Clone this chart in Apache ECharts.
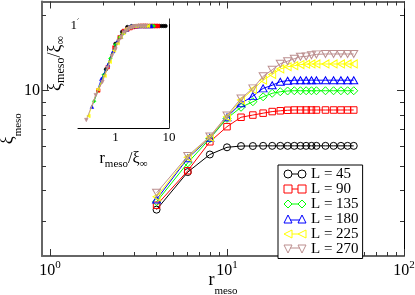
<!DOCTYPE html>
<html><head><meta charset="utf-8">
<script src="https://cdn.jsdelivr.net/npm/echarts@6/dist/echarts.min.js"></script>
<style>html,body{margin:0;padding:0;background:#fff}#c{width:415px;height:295px}</style>
</head><body><div id="c"></div>
<script>
// ---- data ----
const rMeso = [4, 6, 8, 10, 12, 14, 16, 18, 20, 22, 24, 26, 28, 30, 32, 36, 40, 44, 48, 52];
const xiL45  = [3.34, 4.72, 5.55, 5.93, 6.00, 6.00, 6.01, 6.01, 6.01, 6.01, 6.01, 6.01, 6.01, 6.01, 6.01, 6.01, 6.01, 6.01, 6.01, 6.01];
const xiL90  = [3.48, 4.78, 6.24, 7.17, 7.82, 7.98, 8.12, 8.24, 8.30, 8.34, 8.36, 8.36, 8.36, 8.36, 8.36, 8.36, 8.36, 8.36, 8.36, 8.36];
const xiL135 = [3.59, 5.14, 6.42, 7.74, 8.57, 9.02, 9.44, 9.75, 9.89, 9.96, 9.98, 9.98, 9.98, 9.98, 9.98, 9.98, 9.98, 9.98, 9.98, 9.98];
const xiL180 = [3.67, 5.36, 6.47, 7.82, 8.89, 9.50, 10.2, 10.5, 10.85, 10.95, 11.0, 11.0, 11.0, 11.0, 11.0, 11.0, 11.0, 11.0, 11.0, 11.0];
const xiL225 = [3.76, 5.41, 6.50, 7.85, 9.16, 10.1, 11.0, 11.6, 12.2, 12.45, 12.57, 12.70, 12.75, 12.77, 12.77, 12.77, 12.77, 12.77, 12.77, 12.77];
const xiL270 = [3.90, 5.47, 6.55, 7.95, 9.30, 10.2, 11.4, 12.1, 12.8, 13.1, 13.4, 13.65, 13.7, 13.85, 13.95, 14.0, 14.0, 14.0, 14.0, 14.0];
const seriesNames = ['L = 45', 'L = 90', 'L = 135', 'L = 180', 'L = 225', 'L = 270'];
const seriesData = [xiL45, xiL90, xiL135, xiL180, xiL225, xiL270];
// xi_infinity of each L = plateau value
const xiInf = [6.01, 8.36, 9.98, 11.0, 12.77, 14.0];

const xMajorTicks = [1, 10, 100];
const xMinorTicks = [2, 3, 4, 5, 6, 7, 8, 9, 20, 30, 40, 50, 60, 70, 80, 90];
const yMajorTicks = [10];
const yMinorTicks = [3, 4, 5, 6, 7, 8, 9, 20];
const insetXMajor = [1, 10];
const insetXMinor = [0.2, 0.3, 0.4, 0.5, 0.6, 0.7, 0.8, 0.9, 2, 3, 4, 5, 6, 7, 8, 9];
const insetYMajor = [1];
const insetYMinor = [0.3, 0.4, 0.5, 0.6, 0.7, 0.8, 0.9];

// ---- styles ----
const FONT = 'Liberation Serif';
const colors = ['#000000', '#ff0000', '#00ff00', '#0000ff', '#ffff00', '#bc8f8f'];
const symbols = ['circle', 'rect', 'diamond', 'triangle', 'path://M0,5L10,0L10,10Z', 'path://M0,0L10,0L5,9Z'];
const symbolSizes = [7, 6.5, 8, [8, 7], [7, 8], [8, 7]];
const legendIcons = [
  'path://M0,4A4,4 0 1,0 8,4A4,4 0 1,0 0,4Z M8,4L14,4 M14,4A4,4 0 1,0 22,4A4,4 0 1,0 14,4Z',
  'path://M0,0L8,0L8,8L0,8Z M8,4L14,4 M14,0L22,0L22,8L14,8Z',
  'path://M0,4L4,0L8,4L4,8Z M8,4L14,4 M14,4L18,0L22,4L18,8Z',
  'path://M0,8L4,0L8,8Z M6,5L16,5 M14,8L18,0L22,8Z',
  'path://M0,4L8,0L8,8Z M8,4L14,4 M14,4L22,0L22,8Z',
  'path://M0,0L8,0L4,8Z M6,3L16,3 M14,0L22,0L18,8Z'
];

const MAIN = {xmin: 0.901, xmax: 100, ymin: 2.18, ymax: 22.7};
const INSET = {xmin: 0.2, xmax: 10, ymin: 0.25, ymax: 1.1};

function axis(o) {
  return {
    type: 'log', logBase: 10, gridIndex: o.grid, position: o.pos,
    min: o.min, max: o.max,
    splitLine: {show: false}, minorTick: {show: false}, minorSplitLine: {show: false},
    axisLine: {show: !!o.line, lineStyle: o.line || {}},
    axisTick: {show: true, inside: true, length: o.len, customValues: o.ticks, lineStyle: {color: '#333', width: 1}},
    axisLabel: o.labels ? Object.assign({show: true, customValues: o.labels, fontFamily: FONT, color: '#000'}, o.labelOpt) : {show: false},
    name: o.name || '', nameLocation: 'middle', nameGap: o.nameGap || 0,
    nameTextStyle: o.nameStyle || {}, nameMoveOverlap: false,
    silent: true
  };
}

const supRich = {
  b: {fontFamily: FONT, fontSize: 16, color: '#000', verticalAlign: 'bottom'},
  s: {fontFamily: FONT, fontSize: 11, color: '#000', verticalAlign: 'bottom', padding: [0, 0, 8, 0]}
};
const subRich = (base, sub, lh, pad) => ({
  b: {fontFamily: FONT, fontSize: base, lineHeight: lh, color: '#000', verticalAlign: 'top'},
  s: {fontFamily: FONT, fontSize: sub, lineHeight: sub, color: '#000', verticalAlign: 'bottom'},
  p: {fontFamily: FONT, fontSize: sub, lineHeight: sub, width: pad || 0, color: 'rgba(0,0,0,0)'}
});

const grayLine = {color: '#666', width: 2};
const blackLine = {color: '#000', width: 1};

const xAxes = [
  axis({grid: 0, pos: 'bottom', min: MAIN.xmin, max: MAIN.xmax, len: 7, ticks: xMajorTicks, line: grayLine,
    labels: xMajorTicks, labelOpt: {margin: 4, formatter: v => '{b|10}{s|' + Math.round(Math.log10(v)) + '}', rich: supRich},
    name: '{b|r}{s|meso}', nameGap: 15, nameStyle: {rich: subRich(18, 11, 26)}}),
  axis({grid: 0, pos: 'bottom', min: MAIN.xmin, max: MAIN.xmax, len: 4, ticks: xMinorTicks}),
  axis({grid: 0, pos: 'top', min: MAIN.xmin, max: MAIN.xmax, len: 7, ticks: xMajorTicks, line: grayLine}),
  axis({grid: 0, pos: 'top', min: MAIN.xmin, max: MAIN.xmax, len: 4, ticks: xMinorTicks}),
  axis({grid: 1, pos: 'bottom', min: INSET.xmin, max: INSET.xmax, len: 5, ticks: insetXMajor, line: blackLine,
    labels: insetXMajor, labelOpt: {margin: 3, fontSize: 13},
    name: '{b|r}{s|meso}{b|/ξ}{s|∞}', nameGap: 23, nameStyle: {rich: subRich(16, 11, 19)}}),
  axis({grid: 1, pos: 'bottom', min: INSET.xmin, max: INSET.xmax, len: 3, ticks: insetXMinor}),
  axis({grid: 1, pos: 'top', min: INSET.xmin, max: INSET.xmax, len: 5, ticks: insetXMajor, line: blackLine}),
  axis({grid: 1, pos: 'top', min: INSET.xmin, max: INSET.xmax, len: 3, ticks: insetXMinor})
];
const yAxes = [
  axis({grid: 0, pos: 'left', min: MAIN.ymin, max: MAIN.ymax, len: 7, ticks: yMajorTicks, line: grayLine,
    labels: yMajorTicks, labelOpt: {margin: 2, fontSize: 16},
    name: '{b|ξ}{s|meso}', nameGap: 18, nameStyle: {rich: subRich(18, 11, 26)}}),
  axis({grid: 0, pos: 'left', min: MAIN.ymin, max: MAIN.ymax, len: 4, ticks: yMinorTicks}),
  axis({grid: 0, pos: 'right', min: MAIN.ymin, max: MAIN.ymax, len: 7, ticks: yMajorTicks, line: blackLine}),
  axis({grid: 0, pos: 'right', min: MAIN.ymin, max: MAIN.ymax, len: 4, ticks: yMinorTicks}),
  axis({grid: 1, pos: 'left', min: INSET.ymin, max: INSET.ymax, len: 5, ticks: insetYMajor, line: blackLine,
    labels: insetYMajor, labelOpt: {margin: 1, fontSize: 13},
    name: '{p| }{b|ξ}{s|meso}{b|/ξ}{s|∞}', nameGap: 11, nameStyle: {rich: subRich(18, 12, 21, 20)}}),
  axis({grid: 1, pos: 'left', min: INSET.ymin, max: INSET.ymax, len: 3, ticks: insetYMinor}),
  axis({grid: 1, pos: 'right', min: INSET.ymin, max: INSET.ymax, len: 5, ticks: insetYMajor, line: blackLine}),
  axis({grid: 1, pos: 'right', min: INSET.ymin, max: INSET.ymax, len: 3, ticks: insetYMinor})
];

const series = [];
seriesData.forEach((vals, i) => {
  series.push({
    type: 'line', name: seriesNames[i], xAxisIndex: 0, yAxisIndex: 0,
    data: rMeso.map((r, j) => [r, vals[j]]),
    symbol: symbols[i], symbolSize: symbolSizes[i], showSymbol: true, showAllSymbol: true,
    itemStyle: {color: 'none', borderColor: colors[i], borderWidth: 1},
    lineStyle: {color: colors[i], width: 1}, emphasis: {disabled: true}, z: 2 + i
  });
});
seriesData.forEach((vals, i) => {
  series.push({
    type: 'line', name: 'inset ' + seriesNames[i], xAxisIndex: 4, yAxisIndex: 4,
    data: rMeso.map((r, j) => [r / xiInf[i], vals[j] / xiInf[i]]),
    symbol: symbols[i], symbolSize: 3.5, showSymbol: true, showAllSymbol: true,
    itemStyle: {color: colors[i], borderColor: colors[i], borderWidth: 0.6},
    lineStyle: {color: colors[i], width: 0.8}, emphasis: {disabled: true}, z: 12 + i
  });
});

const chart = echarts.init(document.getElementById('c'), null, {renderer: 'canvas'});
chart.setOption({
  animation: false,
  backgroundColor: '#fff',
  grid: [
    {left: 42, top: 1.5, width: 362, height: 254.5, outerBoundsMode: 'none', containLabel: false},
    {left: 78, top: 19, width: 91, height: 109, show: true, backgroundColor: '#fff', borderWidth: 0, outerBoundsMode: 'none', containLabel: false, z: 10}
  ],
  xAxis: xAxes,
  yAxis: yAxes,
  legend: {
    orient: 'vertical', left: 278, top: 165, padding: [1.5, 4, 2, 3.5], itemGap: 0,
    itemWidth: 22, itemHeight: 8, borderColor: '#000', borderWidth: 1, borderRadius: 0,
    backgroundColor: '#fff', selectedMode: false,
    textStyle: {fontFamily: FONT, fontSize: 15, color: '#000', lineHeight: 14.5},
    data: seriesNames.map((n, i) => ({name: n, icon: legendIcons[i],
      itemStyle: {color: 'none', borderColor: colors[i], borderWidth: 1}}))
  },
  series: series
});
</script></body></html>
